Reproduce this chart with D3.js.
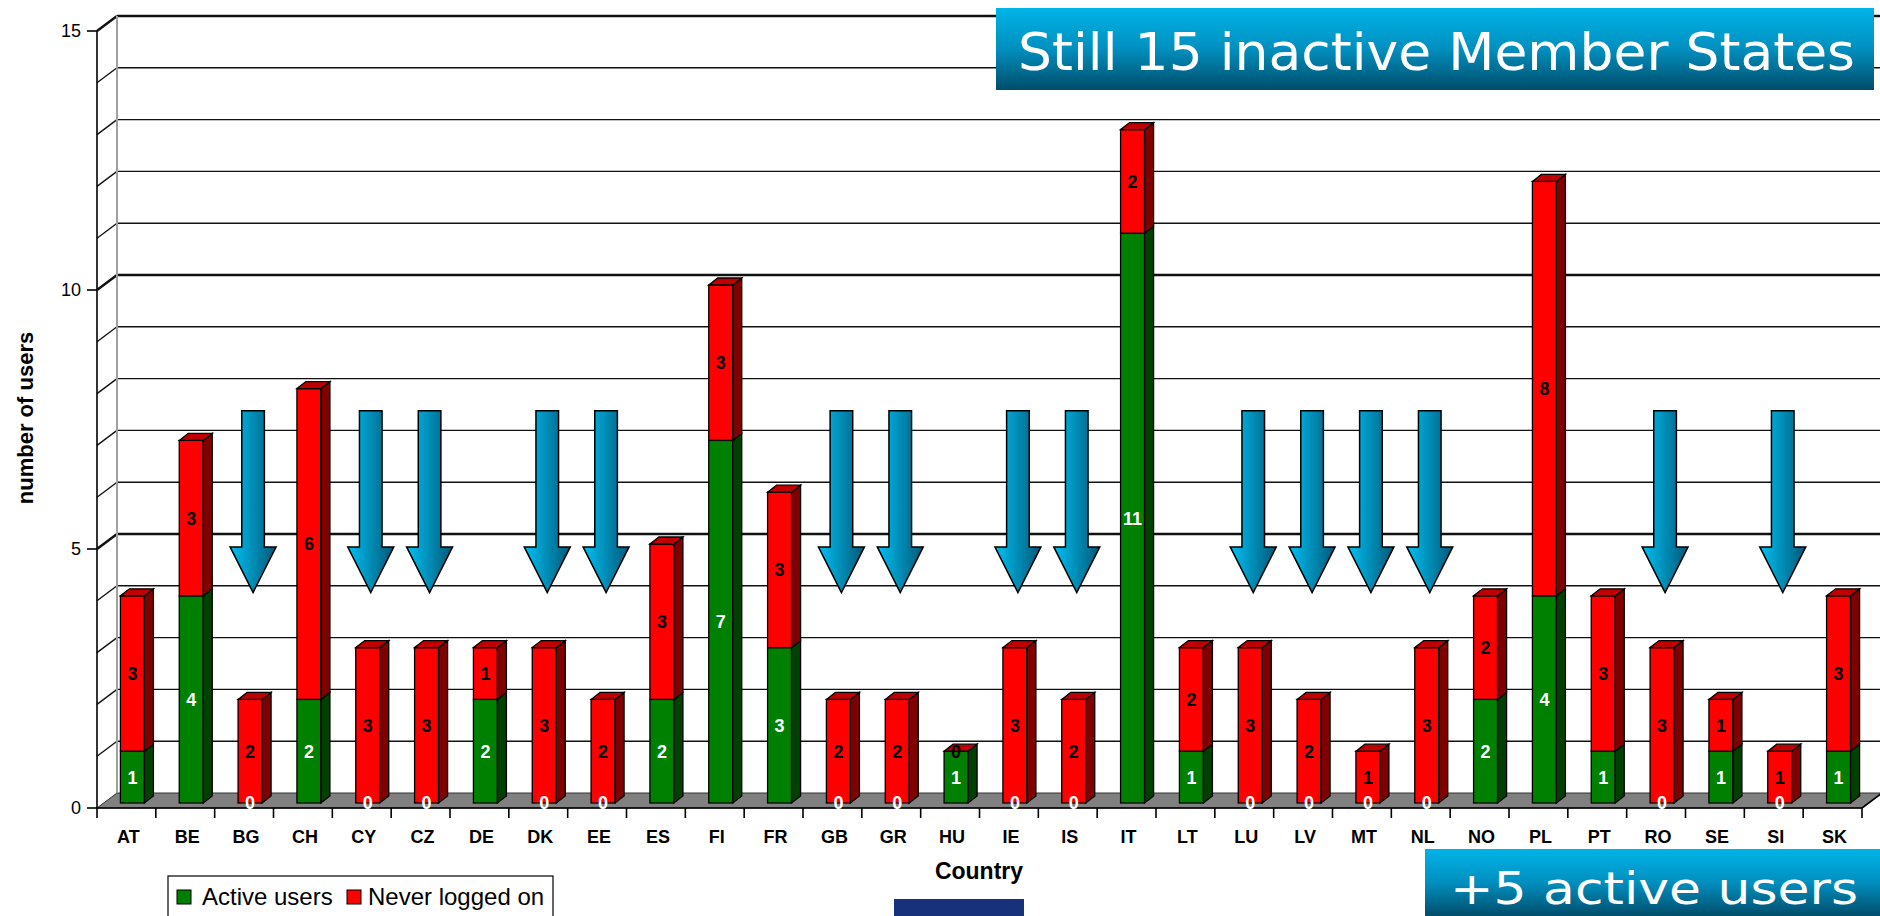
<!DOCTYPE html>
<html>
<head>
<meta charset="utf-8">
<script src="https://cdn.jsdelivr.net/npm/d3@7"></script>
<style>
  html, body { margin: 0; padding: 0; background: #fff; }
  svg { display: block; }
</style>
</head>
<body>
<svg id="chart" width="1880" height="916"></svg>
<script>
// ---- data ----
const countries = ["AT","BE","BG","CH","CY","CZ","DE","DK","EE","ES","FI","FR","GB","GR","HU","IE","IS","IT","LT","LU","LV","MT","NL","NO","PL","PT","RO","SE","SI","SK"];
const activeUsers = [1,4,0,2,0,0,2,0,0,2,7,3,0,0,1,0,0,11,1,0,0,0,0,2,4,1,0,1,0,1];
const neverLogged = [3,3,2,6,3,3,1,3,2,3,3,3,2,2,0,3,2,2,2,3,2,1,3,2,8,3,3,1,1,3];
const yTicks = [0,5,10,15];
const seriesNames = ["Active users","Never logged on"];
const titleText = "Still 15 inactive Member States";
const subText = "+5 active users";
const xTitle = "Country";
const yTitle = "number of users";
// arrow annotation extent (value units on the front plane)
const arrowTopVal = 7.67, arrowHeadVal = 5.04, arrowTipVal = 4.16;

// ---- layout ----
const svg = d3.select("#chart");
const x = d3.scaleBand().domain(countries).range([97, 1862]).padding(0);
const y = d3.scaleLinear().domain([0, 15]).range([808, 31]);
const wallDx = 20, wallDy = -15;      // depth of the chart box
const barOffX = 6, barOffY = -5;      // bar front face offset from front plane
const barDx = 9, barDy = -7;          // bar depth
const barW = 24;
const colors = {
  green: "#008000", greenSide: "#004000",
  red: "#ff0000", redSide: "#800000", redTop: "#c00000"
};
const x0 = x.range()[0], x1 = x.range()[1];

const defs = svg.append("defs");
const gv = defs.append("linearGradient").attr("id","bannerGrad").attr("x1",0).attr("y1",0).attr("x2",0).attr("y2",1);
gv.append("stop").attr("offset","0%").attr("stop-color","#00b4e8");
gv.append("stop").attr("offset","50%").attr("stop-color","#008fbf");
gv.append("stop").attr("offset","100%").attr("stop-color","#004d6a");
const ga = defs.append("linearGradient").attr("id","arrowGrad").attr("x1",0).attr("y1",0).attr("x2",1).attr("y2",0);
ga.append("stop").attr("offset","0%").attr("stop-color","#00c0f2");
ga.append("stop").attr("offset","100%").attr("stop-color","#005878");

// floor
svg.append("path")
  .attr("d", `M${x0},${y(0)} L${x1},${y(0)} L${x1+wallDx},${y(0)+wallDy} L${x0+wallDx},${y(0)+wallDy} Z`)
  .attr("fill","#808080").attr("stroke","#333").attr("stroke-width",1);

// gridlines on back wall and side wall
const gridVals = d3.range(1, 16);
gridVals.forEach(v => {
  const major = v % 5 === 0;
  svg.append("line")
    .attr("x1", x0 + wallDx).attr("x2", 1880)
    .attr("y1", y(v) + wallDy).attr("y2", y(v) + wallDy)
    .attr("stroke", "#111").attr("stroke-width", major ? 2.6 : 1.4);
  svg.append("line")
    .attr("x1", x0).attr("x2", x0 + wallDx)
    .attr("y1", y(v)).attr("y2", y(v) + wallDy)
    .attr("stroke", "#111").attr("stroke-width", major ? 2.6 : 1.4);
});
// back wall left edge
svg.append("line").attr("x1", x0+wallDx).attr("x2", x0+wallDx)
  .attr("y1", y(15)+wallDy).attr("y2", y(0)+wallDy)
  .attr("stroke","#a0a0a0").attr("stroke-width",2);
// front axis
svg.append("line").attr("x1", x0).attr("x2", x0).attr("y1", y(15)).attr("y2", y(0)+10)
  .attr("stroke","#000").attr("stroke-width",1.6);
// y ticks & labels
yTicks.forEach(v => {
  svg.append("line").attr("x1", x0-10).attr("x2", x0).attr("y1", y(v)).attr("y2", y(v))
    .attr("stroke","#000").attr("stroke-width",1.6);
  svg.append("text").attr("x", x0-16).attr("y", y(v)).attr("dy","0.35em")
    .attr("text-anchor","end").attr("font-family","Liberation Sans, Arial, sans-serif")
    .attr("font-size",18).text(v);
});
// x axis line & ticks
svg.append("line").attr("x1", x0).attr("x2", x1).attr("y1", y(0)).attr("y2", y(0))
  .attr("stroke","#000").attr("stroke-width",1.6);
svg.append("line").attr("x1", x1).attr("x2", x1+wallDx).attr("y1", y(0)).attr("y2", y(0)+wallDy)
  .attr("stroke","#000").attr("stroke-width",1.6);
countries.forEach((c, i) => {
  const tx = x(c) + x.bandwidth();
  svg.append("line").attr("x1", tx).attr("x2", tx).attr("y1", y(0)).attr("y2", y(0)+10)
    .attr("stroke","#000").attr("stroke-width",1.6);
  svg.append("text").attr("x", x(c) + x.bandwidth()/2 + 2).attr("y", 843)
    .attr("text-anchor","middle").attr("font-family","Liberation Sans, Arial, sans-serif")
    .attr("font-weight","bold").attr("font-size",18).text(c);
});

// axis titles
svg.append("text").attr("x", 979).attr("y", 879).attr("text-anchor","middle")
  .attr("font-family","Liberation Sans, Arial, sans-serif").attr("font-weight","bold")
  .attr("font-size",23).text(xTitle);
svg.append("text").attr("transform","translate(33,418) rotate(-90)").attr("text-anchor","middle")
  .attr("font-family","Liberation Sans, Arial, sans-serif").attr("font-weight","bold")
  .attr("font-size",22).text(yTitle);

// bars
const barG = svg.append("g");
countries.forEach((c, i) => {
  const fx = x(c) + x.bandwidth()/2 - barW/2 + barOffX;
  const segs = [
    {v0: 0, v1: activeUsers[i], front: colors.green, side: colors.greenSide, label: activeUsers[i], lc: "#fff"},
    {v0: activeUsers[i], v1: activeUsers[i] + neverLogged[i], front: colors.red, side: colors.redSide, label: neverLogged[i], lc: "#000"}
  ];
  segs.forEach(s => {
    const yt = y(s.v1) + barOffY, yb = y(s.v0) + barOffY;
    if (yb - yt > 0) {
      barG.append("rect").attr("x", fx).attr("y", yt).attr("width", barW).attr("height", yb - yt)
        .attr("fill", s.front).attr("stroke","#000").attr("stroke-width",1.3);
      barG.append("path")
        .attr("d", `M${fx+barW},${yt} L${fx+barW+barDx},${yt+barDy} L${fx+barW+barDx},${yb+barDy} L${fx+barW},${yb} Z`)
        .attr("fill", s.side).attr("stroke","#000").attr("stroke-width",1.3);
    }
  });
  // top face
  const ytop = y(activeUsers[i] + neverLogged[i]) + barOffY;
  barG.append("path")
    .attr("d", `M${fx},${ytop} L${fx+barDx},${ytop+barDy} L${fx+barW+barDx},${ytop+barDy} L${fx+barW},${ytop} Z`)
    .attr("fill", colors.redTop).attr("stroke","#000").attr("stroke-width",1.3);
  // labels
  segs.forEach(s => {
    const ym = (y(s.v0) + y(s.v1)) / 2 + barOffY;
    barG.append("text").attr("x", fx + barW/2).attr("y", ym).attr("dy","0.36em")
      .attr("text-anchor","middle").attr("font-family","Liberation Sans, Arial, sans-serif")
      .attr("font-weight","bold").attr("font-size",18).attr("fill", s.lc).text(s.label);
  });
});

// arrows over inactive member states
const arrowG = svg.append("g");
countries.forEach((c, i) => {
  if (activeUsers[i] !== 0) return;
  const cx = x(c) + x.bandwidth()/2 + 9;
  const sw = 11.3, hw = 23;
  const yT = y(arrowTopVal), yH = y(arrowHeadVal), yP = y(arrowTipVal);
  arrowG.append("path")
    .attr("d", `M${cx-sw},${yT} L${cx+sw},${yT} L${cx+sw},${yH} L${cx+hw},${yH} L${cx},${yP} L${cx-hw},${yH} L${cx-sw},${yH} Z`)
    .attr("fill","url(#arrowGrad)").attr("stroke","#000").attr("stroke-width",1.5).attr("stroke-linejoin","miter");
});

// title banner
svg.append("rect").attr("x", 996).attr("y", 8).attr("width", 878).attr("height", 82).attr("fill","url(#bannerGrad)");
svg.append("text").attr("x", 1018).attr("y", 70).attr("font-family","DejaVu Sans, Verdana, sans-serif")
  .attr("font-size",52).attr("fill","#fff").attr("textLength",837).attr("lengthAdjust","spacingAndGlyphs")
  .text(titleText);

// bottom banner
svg.append("rect").attr("x", 1425).attr("y", 849).attr("width", 455).attr("height", 67).attr("fill","url(#bannerGrad)");
svg.append("text").attr("x", 1450).attr("y", 904).attr("font-family","DejaVu Sans, Verdana, sans-serif")
  .attr("font-size",44).attr("fill","#fff").attr("textLength",408).attr("lengthAdjust","spacingAndGlyphs")
  .text(subText);

// navy block
svg.append("rect").attr("x", 894).attr("y", 899).attr("width", 130).attr("height", 17).attr("fill","#17327a");

// legend
const lg = svg.append("g");
lg.append("rect").attr("x",168).attr("y",876).attr("width",385).attr("height",60)
  .attr("fill","#fff").attr("stroke","#000").attr("stroke-width",1.2);
const legItems = [
  {name: seriesNames[0], color: colors.green, sx: 177, tx: 202},
  {name: seriesNames[1], color: colors.red, sx: 347, tx: 368}
];
legItems.forEach(d => {
  lg.append("rect").attr("x", d.sx).attr("y", 890).attr("width", 14).attr("height", 14)
    .attr("fill", d.color).attr("stroke","#000").attr("stroke-width",1);
  lg.append("text").attr("x", d.tx).attr("y", 905).attr("font-family","Liberation Sans, Arial, sans-serif")
    .attr("font-size",24).text(d.name);
});
</script>
</body>
</html>
